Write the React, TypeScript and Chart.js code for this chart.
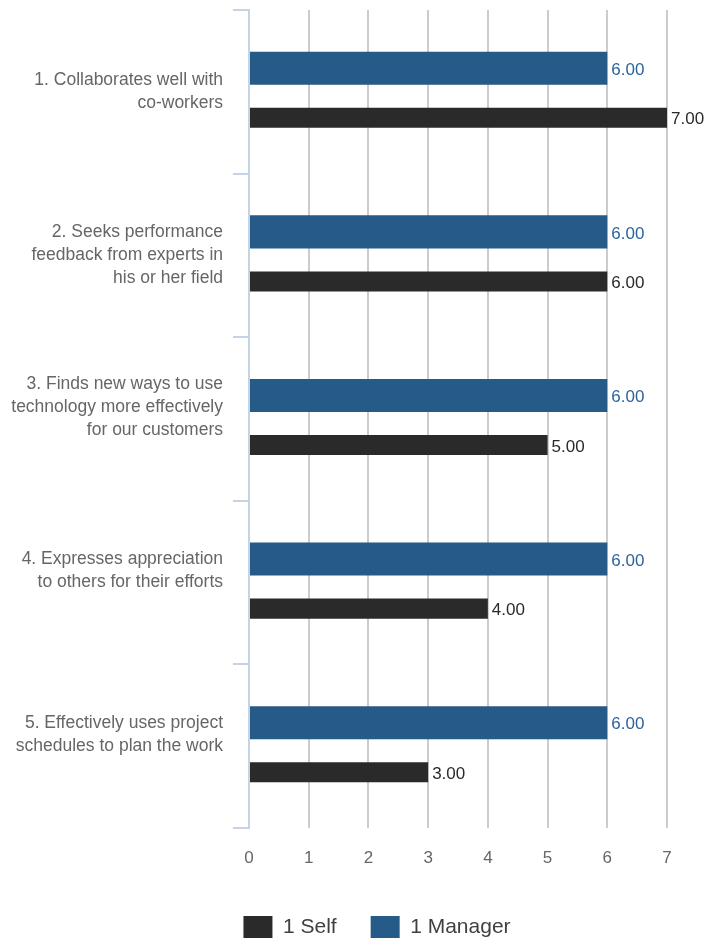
import React, { useEffect, useRef } from "react";
import { Chart, registerables } from "chart.js";

Chart.register(...registerables);

const categories: string[][] = [
  ["1. Collaborates well with", "co-workers"],
  ["2. Seeks performance", "feedback from experts in", "his or her field"],
  ["3. Finds new ways to use", "technology more effectively", "for our customers", ""],
  ["4. Expresses appreciation", "to others for their efforts", ""],
  ["5. Effectively uses project", "schedules to plan the work", ""],
];
const managerValues = [6, 6, 6, 6, 6];
const selfValues = [7, 6, 5, 4, 3];
const managerLabel = "1 Manager";
const selfLabel = "1 Self";

const FONT = "'Liberation Sans', Arial, sans-serif";
const BLUE = "#265a89";
const DARK = "#2a2a2a";

const valueLabels = {
  id: "valueLabels",
  afterDatasetsDraw(chart: any) {
    const ctx = chart.ctx;
    ctx.save();
    ctx.font = `17px ${FONT}`;
    ctx.textAlign = "left";
    ctx.textBaseline = "middle";
    chart.data.datasets.forEach((ds: any, di: number) => {
      const meta = chart.getDatasetMeta(di);
      if (meta.hidden) return;
      ctx.fillStyle = ds.valueColor;
      meta.data.forEach((bar: any, i: number) => {
        const v = ds.data[i];
        ctx.fillText(Number(v).toFixed(2), bar.x + 4, bar.y + 2);
      });
    });
    ctx.restore();
  },
};

export default function App() {
  const ref = useRef<HTMLCanvasElement | null>(null);
  useEffect(() => {
    if (!ref.current) return;
    const chart = new Chart(ref.current, {
      type: "bar",
      data: {
        labels: categories,
        datasets: [
          {
            label: managerLabel,
            data: managerValues,
            backgroundColor: BLUE,
            categoryPercentage: 0.575,
            barPercentage: 0.702,
            valueColor: "#2c639b",
          } as any,
          {
            label: selfLabel,
            data: selfValues,
            backgroundColor: DARK,
            categoryPercentage: 0.636,
            barPercentage: 0.385,
            valueColor: "#2a2a2a",
          } as any,
        ],
      },
      options: {
        indexAxis: "y",
        animation: false,
        responsive: true,
        maintainAspectRatio: false,
        layout: { padding: { top: 10, right: -31, bottom: 0, left: 0 } },
        scales: {
          x: {
            min: 0,
            max: 7,
            ticks: {
              stepSize: 1,
              padding: 20,
              color: "#666666",
              font: { family: FONT, size: 17 },
            },
            grid: { color: "#cccccc", lineWidth: 2, drawTicks: false },
            border: { display: false },
            afterFit: (s: any) => {
              s.height = 54;
              s.paddingLeft = 0;
              s.paddingRight = 0;
            },
          },
          y: {
            ticks: {
              padding: 10,
              color: "#666666",
              font: { family: FONT, size: 17.5, lineHeight: 1.32 },
            },
            grid: {
              drawOnChartArea: false,
              tickLength: 16,
              color: "#c5d4e4",
              lineWidth: 2,
            },
            border: { color: "#c5d4e4", width: 2 },
            afterFit: (s: any) => {
              s.width = 249;
              s.paddingTop = 0;
              s.paddingBottom = 0;
            },
          },
          yRight: {
            type: "category",
            position: "right",
            grid: { display: false, drawTicks: false },
            ticks: { display: false },
            border: { display: false },
            afterFit: (s: any) => {
              s.width = 87;
              s.paddingTop = 0;
              s.paddingBottom = 0;
            },
          } as any,
        },
        plugins: {
          legend: {
            position: "bottom",
            reverse: true,
            labels: {
              boxWidth: 29,
              boxHeight: 22,
              padding: 34,
              color: "#404040",
              font: { family: FONT, size: 21 },
            },
          },
          tooltip: { enabled: false },
        },
      },
      plugins: [valueLabels],
    });
    return () => chart.destroy();
  }, []);
  return (
    <div style={{ position: "fixed", left: 0, top: 0, width: 723, height: 948 }}>
      <canvas ref={ref} />
    </div>
  );
}
